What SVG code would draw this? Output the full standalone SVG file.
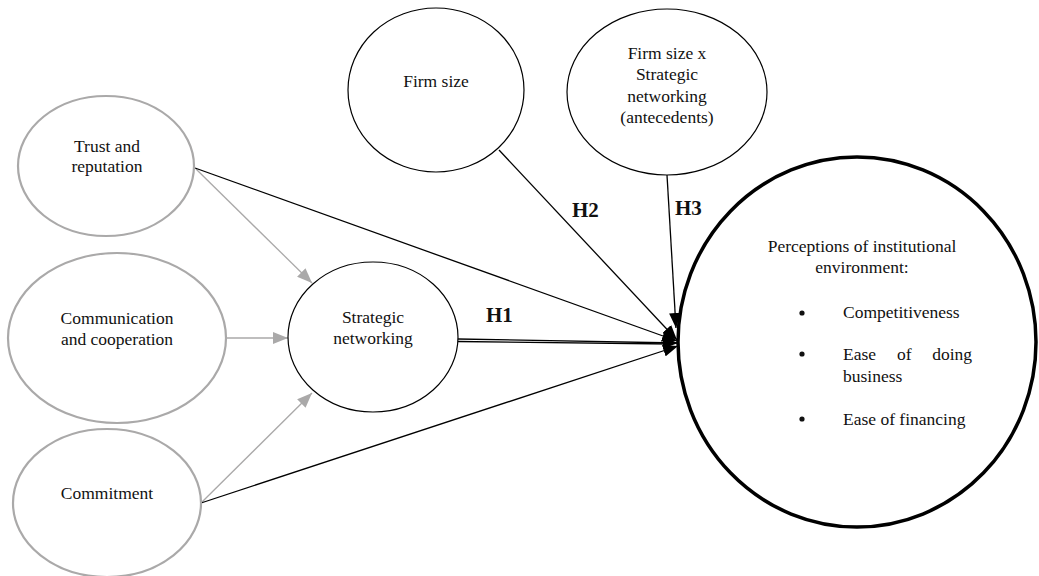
<svg xmlns="http://www.w3.org/2000/svg" width="1039" height="576" viewBox="0 0 1039 576">
<style>
.t{font-family:"Liberation Serif","Times New Roman",serif;font-size:17.5px;fill:#111;text-anchor:middle}
.l{text-anchor:start}
.h{font-family:"Liberation Serif","Times New Roman",serif;font-size:21px;font-weight:bold;fill:#111}
.g{fill:#fff;stroke:#aaa9a9;stroke-width:2.2}
.b{fill:#fff;stroke:#000;stroke-width:1.2}
.gl{stroke:#aaa9a9;stroke-width:1.3;fill:none}
.bl{stroke:#000;stroke-width:1.3;fill:none}
</style>
<defs>
<marker id="ga" viewBox="0 0 10 10" refX="10" refY="5" markerWidth="15" markerHeight="12" preserveAspectRatio="none" markerUnits="userSpaceOnUse" orient="auto">
<path d="M0,0 L10,5 L0,10 z" fill="#aaa9a9"/>
</marker>
<marker id="ba" viewBox="0 0 10 10" refX="10" refY="5" markerWidth="15" markerHeight="12" preserveAspectRatio="none" markerUnits="userSpaceOnUse" orient="auto">
<path d="M0,0 L10,5 L0,10 z" fill="#000"/>
</marker>
</defs>
<rect width="1039" height="576" fill="#fff"/>
<g id="connectors">
<line class="gl" x1="196" y1="169" x2="312" y2="283" marker-end="url(#ga)"/>
<line class="gl" x1="226" y1="338" x2="288" y2="338" marker-end="url(#ga)"/>
<line class="gl" x1="201" y1="503" x2="312" y2="393" marker-end="url(#ga)"/>
<line class="bl" x1="195" y1="168" x2="677" y2="341" marker-end="url(#ba)"/>
<line class="bl" x1="499" y1="150" x2="677" y2="340" marker-end="url(#ba)"/>
<line class="bl" x1="667" y1="175" x2="676" y2="328" marker-end="url(#ba)"/>
<line class="bl" x1="458" y1="339" x2="678" y2="343" marker-end="url(#ba)"/>
<line class="bl" x1="458" y1="341.5" x2="672" y2="344"/>
<line class="bl" x1="201" y1="503" x2="678" y2="346" marker-end="url(#ba)"/>
<text class="h" x="486" y="322">H1</text>
<text class="h" x="572" y="217">H2</text>
<text class="h" x="675" y="215">H3</text>
</g>
<g id="trust">
<ellipse class="g" cx="106" cy="166" rx="88" ry="70"/>
<text class="t" x="107" y="152">Trust and</text>
<text class="t" x="107" y="172">reputation</text>
</g>
<g id="communication">
<ellipse class="g" cx="117" cy="338" rx="109" ry="85"/>
<text class="t" x="117" y="324">Communication</text>
<text class="t" x="117" y="345">and cooperation</text>
</g>
<g id="commitment">
<ellipse class="g" cx="107" cy="503" rx="94" ry="74"/>
<text class="t" x="107" y="499">Commitment</text>
</g>
<g id="strategic">
<ellipse class="b" cx="373" cy="337" rx="85" ry="75"/>
<text class="t" x="373" y="323">Strategic</text>
<text class="t" x="373" y="344">networking</text>
</g>
<g id="firmsize">
<ellipse class="b" cx="436" cy="90" rx="88" ry="82"/>
<text class="t" x="436" y="87">Firm size</text>
</g>
<g id="interaction">
<ellipse class="b" cx="667" cy="92" rx="100" ry="83"/>
<text class="t" x="667" y="59">Firm size x</text>
<text class="t" x="667" y="80">Strategic</text>
<text class="t" x="667" y="102">networking</text>
<text class="t" x="667" y="123">(antecedents)</text>
</g>
<g id="perceptions">
<ellipse cx="857" cy="342" rx="179" ry="185" fill="none" stroke="#000" stroke-width="3.5"/>
<text class="t" x="862" y="252">Perceptions of institutional</text>
<text class="t" x="862" y="273">environment:</text>
<circle cx="802" cy="313" r="2.6" fill="#111"/>
<text class="t l" x="843" y="318">Competitiveness</text>
<circle cx="802" cy="354" r="2.6" fill="#111"/>
<text class="t l" x="843" y="360">Ease</text>
<text class="t l" x="897" y="360">of</text>
<text class="t" x="972" y="360" style="text-anchor:end">doing</text>
<text class="t l" x="843" y="382">business</text>
<circle cx="802" cy="419" r="2.6" fill="#111"/>
<text class="t l" x="843" y="425">Ease of financing</text>
</g>
</svg>
